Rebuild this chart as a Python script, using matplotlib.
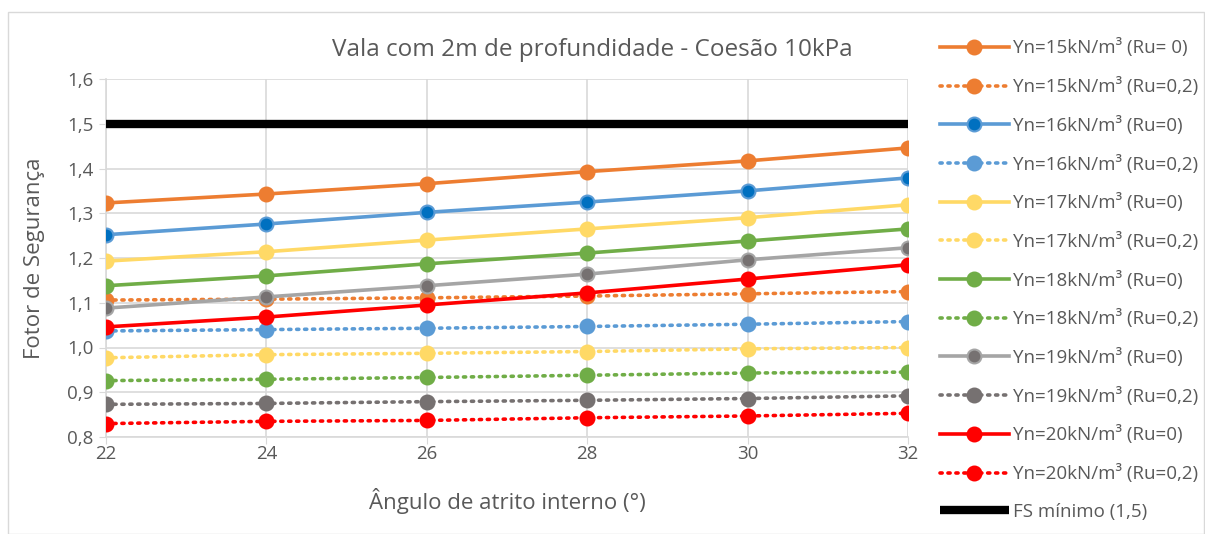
import matplotlib
matplotlib.use("Agg")
import matplotlib.pyplot as plt
from matplotlib.patches import Rectangle

angles = [22, 24, 26, 28, 30, 32]
labels = ["\u03a5n=15kN/m\u00b3 (Ru= 0)", "\u03a5n=15kN/m\u00b3 (Ru=0,2)",
          "\u03a5n=16kN/m\u00b3 (Ru=0)", "\u03a5n=16kN/m\u00b3 (Ru=0,2)",
          "\u03a5n=17kN/m\u00b3 (Ru=0)", "\u03a5n=17kN/m\u00b3 (Ru=0,2)",
          "\u03a5n=18kN/m\u00b3 (Ru=0)", "\u03a5n=18kN/m\u00b3 (Ru=0,2)",
          "\u03a5n=19kN/m\u00b3 (Ru=0)", "\u03a5n=19kN/m\u00b3 (Ru=0,2)",
          "\u03a5n=20kN/m\u00b3 (Ru=0)", "\u03a5n=20kN/m\u00b3 (Ru=0,2)"]
g15_ru0 = [1.323, 1.343, 1.366, 1.393, 1.417, 1.446]
g15_ru02 = [1.106, 1.108, 1.111, 1.115, 1.120, 1.125]
g16_ru0 = [1.252, 1.276, 1.302, 1.325, 1.350, 1.379]
g16_ru02 = [1.037, 1.040, 1.043, 1.047, 1.052, 1.058]
g17_ru0 = [1.193, 1.214, 1.240, 1.265, 1.290, 1.319]
g17_ru02 = [0.977, 0.984, 0.987, 0.991, 0.997, 1.000]
g18_ru0 = [1.138, 1.160, 1.187, 1.211, 1.238, 1.265]
g18_ru02 = [0.926, 0.929, 0.933, 0.938, 0.943, 0.945]
g19_ru0 = [1.088, 1.113, 1.138, 1.164, 1.196, 1.223]
g19_ru02 = [0.873, 0.875, 0.879, 0.882, 0.886, 0.892]
g20_ru0 = [1.046, 1.068, 1.095, 1.122, 1.153, 1.185]
g20_ru02 = [0.830, 0.835, 0.837, 0.843, 0.847, 0.853]
fs_min = [1.5, 1.5, 1.5, 1.5, 1.5, 1.5]
fs_label = "FS m\u00ednimo (1,5)"

series = [g15_ru0, g15_ru02, g16_ru0, g16_ru02, g17_ru0, g17_ru02,
          g18_ru0, g18_ru02, g19_ru0, g19_ru02, g20_ru0, g20_ru02]
# (line color, marker face, marker edge)
styles = [("#ED7D31", "#ED7D31", "#ED7D31"), ("#ED7D31", "#ED7D31", "#ED7D31"),
          ("#5B9BD5", "#0070C0", "#5B9BD5"), ("#5B9BD5", "#5B9BD5", "#5B9BD5"),
          ("#FFD966", "#FFD966", "#FFD966"), ("#FFD966", "#FFD966", "#FFD966"),
          ("#70AD47", "#70AD47", "#70AD47"), ("#70AD47", "#70AD47", "#70AD47"),
          ("#A5A5A5", "#767171", "#A5A5A5"), ("#767171", "#767171", "#767171"),
          ("#FF0000", "#FF0000", "#FF0000"), ("#FF0000", "#FF0000", "#FF0000")]

plt.rcParams['font.family'] = ['Open Sans', 'DejaVu Sans']
txt = "#595959"
grid = "#D9D9D9"

fig = plt.figure(figsize=(12.05, 5.34), dpi=100)
fig.patches.append(Rectangle((8/1205, 0), 1 - 8/1205 - 0.001, 1 - 12/534,
                             transform=fig.transFigure, fill=False,
                             edgecolor=grid, linewidth=1))
ax = fig.add_axes([106/1205, 1 - 437/534, (908-106)/1205, (437-79)/534])

handles = []
for i, (vals, (lc, mf, me)) in enumerate(zip(series, styles)):
    dotted = (i % 2 == 1)
    ls = (0, (0.6, 1.6)) if dotted else '-'
    h, = ax.plot(angles, vals, color=lc, linestyle=ls, linewidth=2.6,
                 dash_capstyle='round', marker='o', markersize=10,
                 markerfacecolor=mf, markeredgecolor=me, markeredgewidth=1.5,
                 label=labels[i], zorder=3)
    handles.append(h)
h, = ax.plot(angles, fs_min, color="black", linewidth=6, solid_capstyle='butt',
             label=fs_label, zorder=3)
handles.append(h)

ax.set_xlim(22, 32)
ax.set_ylim(0.8, 1.6)
ax.set_xticks(angles)
yt = [0.8, 0.9, 1.0, 1.1, 1.2, 1.3, 1.4, 1.5, 1.6]
ax.set_yticks(yt)
ax.set_yticklabels([f"{v:.1f}".replace('.', ',') for v in yt])
ax.grid(True, color=grid, linewidth=1.2, zorder=0)
ax.set_axisbelow(True)
for s in ["top", "right"]:
    ax.spines[s].set_visible(False)
for s in ["bottom", "left"]:
    ax.spines[s].set_color(grid)
    ax.spines[s].set_linewidth(1.2)
ax.tick_params(axis='x', colors=txt, labelsize=13.5, length=5, color=grid, pad=1)
ax.tick_params(axis='y', colors=txt, labelsize=13.5, length=5, color=grid, pad=4)
ax.set_xlabel("\u00c2ngulo de atrito interno (\u00b0)", fontsize=16, color=txt, labelpad=18)
ax.set_ylabel("Fotor de Seguran\u00e7a", fontsize=16, color=txt, labelpad=16)
fig.text(592/1205, 1 - 50/534, "Vala com 2m de profundidade - Coes\u00e3o 10kPa",
         ha='center', va='center', fontsize=17.5, color=txt)

leg = fig.legend(handles=handles, loc='upper left',
                 bbox_to_anchor=(932/1205, 1 - 31/534), frameon=False,
                 fontsize=13.5, handlelength=3.7, handletextpad=0.2,
                 labelspacing=1.05, borderaxespad=0)
for t in leg.get_texts():
    t.set_color(txt)

fig.savefig("out.png", dpi=100)
